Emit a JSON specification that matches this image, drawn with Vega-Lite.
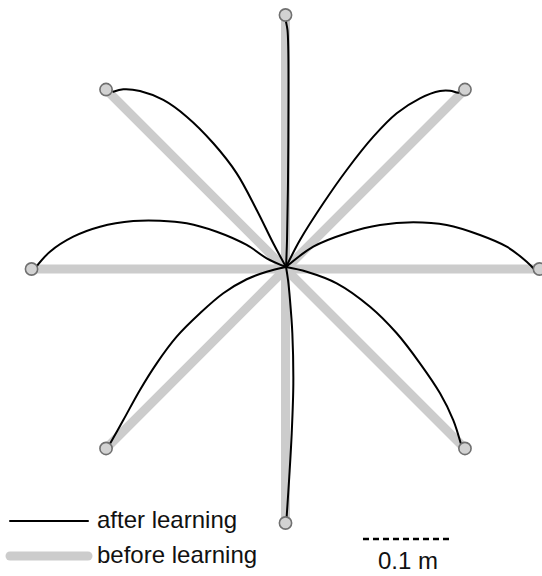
{
  "$schema": "https://vega.github.io/schema/vega-lite/v6.json",
  "width": 542,
  "height": 576,
  "autosize": {"type": "none"},
  "padding": 0,
  "background": "white",
  "config": {
    "view": {"stroke": null},
    "text": {"font": "Liberation Sans"}
  },
  "datasets": {
    "paths": [
      {"phase": "before learning", "dir": "N", "i": 0, "x": 0, "y": 0},
      {"phase": "before learning", "dir": "N", "i": 1, "x": 0, "y": 0.2822},
      {"phase": "before learning", "dir": "NE", "i": 0, "x": 0, "y": 0},
      {"phase": "before learning", "dir": "NE", "i": 1, "x": 0.1994, "y": 0.1994},
      {"phase": "before learning", "dir": "E", "i": 0, "x": 0, "y": 0},
      {"phase": "before learning", "dir": "E", "i": 1, "x": 0.2822, "y": 0},
      {"phase": "before learning", "dir": "SE", "i": 0, "x": 0, "y": 0},
      {"phase": "before learning", "dir": "SE", "i": 1, "x": 0.1994, "y": -0.1994},
      {"phase": "before learning", "dir": "S", "i": 0, "x": 0, "y": 0},
      {"phase": "before learning", "dir": "S", "i": 1, "x": 0, "y": -0.2822},
      {"phase": "before learning", "dir": "SW", "i": 0, "x": 0, "y": 0},
      {"phase": "before learning", "dir": "SW", "i": 1, "x": -0.1994, "y": -0.1994},
      {"phase": "before learning", "dir": "W", "i": 0, "x": 0, "y": 0},
      {"phase": "before learning", "dir": "W", "i": 1, "x": -0.2822, "y": 0},
      {"phase": "before learning", "dir": "NW", "i": 0, "x": 0, "y": 0},
      {"phase": "before learning", "dir": "NW", "i": 1, "x": -0.1994, "y": 0.1994},

      {"phase": "after learning", "dir": "N", "i": 0, "x": 0.0006, "y": 0.0022},
      {"phase": "after learning", "dir": "N", "i": 1, "x": 0.0017, "y": 0.0322},
      {"phase": "after learning", "dir": "N", "i": 2, "x": 0.0028, "y": 0.0989},
      {"phase": "after learning", "dir": "N", "i": 3, "x": 0.0033, "y": 0.1878},
      {"phase": "after learning", "dir": "N", "i": 4, "x": 0.0031, "y": 0.2433},
      {"phase": "after learning", "dir": "N", "i": 5, "x": 0.0022, "y": 0.2656},
      {"phase": "after learning", "dir": "N", "i": 6, "x": 0.0006, "y": 0.2744},
      {"phase": "after learning", "dir": "N", "i": 7, "x": -0.0006, "y": 0.2800},

      {"phase": "after learning", "dir": "NE", "i": 0, "x": 0.0006, "y": 0.0022},
      {"phase": "after learning", "dir": "NE", "i": 1, "x": 0.0161, "y": 0.0322},
      {"phase": "after learning", "dir": "NE", "i": 2, "x": 0.0420, "y": 0.0730},
      {"phase": "after learning", "dir": "NE", "i": 3, "x": 0.0680, "y": 0.1100},
      {"phase": "after learning", "dir": "NE", "i": 4, "x": 0.0976, "y": 0.1470},
      {"phase": "after learning", "dir": "NE", "i": 5, "x": 0.1236, "y": 0.1730},
      {"phase": "after learning", "dir": "NE", "i": 6, "x": 0.1494, "y": 0.1897},
      {"phase": "after learning", "dir": "NE", "i": 7, "x": 0.1717, "y": 0.1978},
      {"phase": "after learning", "dir": "NE", "i": 8, "x": 0.1828, "y": 0.1981},
      {"phase": "after learning", "dir": "NE", "i": 9, "x": 0.1920, "y": 0.1959},
      {"phase": "after learning", "dir": "NE", "i": 10, "x": 0.1950, "y": 0.1972},

      {"phase": "after learning", "dir": "E", "i": 0, "x": 0.0006, "y": 0.0022},
      {"phase": "after learning", "dir": "E", "i": 1, "x": 0.0309, "y": 0.0248},
      {"phase": "after learning", "dir": "E", "i": 2, "x": 0.0680, "y": 0.0397},
      {"phase": "after learning", "dir": "E", "i": 3, "x": 0.1050, "y": 0.0489},
      {"phase": "after learning", "dir": "E", "i": 4, "x": 0.1420, "y": 0.0519},
      {"phase": "after learning", "dir": "E", "i": 5, "x": 0.1791, "y": 0.0489},
      {"phase": "after learning", "dir": "E", "i": 6, "x": 0.2161, "y": 0.0378},
      {"phase": "after learning", "dir": "E", "i": 7, "x": 0.2458, "y": 0.0248},
      {"phase": "after learning", "dir": "E", "i": 8, "x": 0.2680, "y": 0.0081},
      {"phase": "after learning", "dir": "E", "i": 9, "x": 0.2772, "y": -0.0011},

      {"phase": "after learning", "dir": "SE", "i": 0, "x": 0.0006, "y": 0.0022},
      {"phase": "after learning", "dir": "SE", "i": 1, "x": 0.0236, "y": -0.0030},
      {"phase": "after learning", "dir": "SE", "i": 2, "x": 0.0569, "y": -0.0159},
      {"phase": "after learning", "dir": "SE", "i": 3, "x": 0.0939, "y": -0.0419},
      {"phase": "after learning", "dir": "SE", "i": 4, "x": 0.1236, "y": -0.0714},
      {"phase": "after learning", "dir": "SE", "i": 5, "x": 0.1494, "y": -0.1048},
      {"phase": "after learning", "dir": "SE", "i": 6, "x": 0.1717, "y": -0.1381},
      {"phase": "after learning", "dir": "SE", "i": 7, "x": 0.1864, "y": -0.1678},
      {"phase": "after learning", "dir": "SE", "i": 8, "x": 0.1947, "y": -0.1937},

      {"phase": "after learning", "dir": "S", "i": 0, "x": 0.0006, "y": 0.0022},
      {"phase": "after learning", "dir": "S", "i": 1, "x": 0.0028, "y": -0.0122},
      {"phase": "after learning", "dir": "S", "i": 2, "x": 0.0050, "y": -0.0344},
      {"phase": "after learning", "dir": "S", "i": 3, "x": 0.0076, "y": -0.0714},
      {"phase": "after learning", "dir": "S", "i": 4, "x": 0.0087, "y": -0.1270},
      {"phase": "after learning", "dir": "S", "i": 5, "x": 0.0069, "y": -0.1826},
      {"phase": "after learning", "dir": "S", "i": 6, "x": 0.0042, "y": -0.2308},
      {"phase": "after learning", "dir": "S", "i": 7, "x": 0.0013, "y": -0.2752},

      {"phase": "after learning", "dir": "SW", "i": 0, "x": 0.0006, "y": 0.0022},
      {"phase": "after learning", "dir": "SW", "i": 1, "x": -0.0209, "y": -0.0030},
      {"phase": "after learning", "dir": "SW", "i": 2, "x": -0.0431, "y": -0.0114},
      {"phase": "after learning", "dir": "SW", "i": 3, "x": -0.0691, "y": -0.0270},
      {"phase": "after learning", "dir": "SW", "i": 4, "x": -0.0950, "y": -0.0492},
      {"phase": "after learning", "dir": "SW", "i": 5, "x": -0.1209, "y": -0.0752},
      {"phase": "after learning", "dir": "SW", "i": 6, "x": -0.1431, "y": -0.1048},
      {"phase": "after learning", "dir": "SW", "i": 7, "x": -0.1617, "y": -0.1344},
      {"phase": "after learning", "dir": "SW", "i": 8, "x": -0.1802, "y": -0.1678},
      {"phase": "after learning", "dir": "SW", "i": 9, "x": -0.1969, "y": -0.1974},

      {"phase": "after learning", "dir": "W", "i": 0, "x": 0.0006, "y": 0.0022},
      {"phase": "after learning", "dir": "W", "i": 1, "x": -0.0209, "y": 0.0119},
      {"phase": "after learning", "dir": "W", "i": 2, "x": -0.0431, "y": 0.0267},
      {"phase": "after learning", "dir": "W", "i": 3, "x": -0.0764, "y": 0.0414},
      {"phase": "after learning", "dir": "W", "i": 4, "x": -0.1098, "y": 0.0508},
      {"phase": "after learning", "dir": "W", "i": 5, "x": -0.1394, "y": 0.0537},
      {"phase": "after learning", "dir": "W", "i": 6, "x": -0.1691, "y": 0.0533},
      {"phase": "after learning", "dir": "W", "i": 7, "x": -0.2061, "y": 0.0470},
      {"phase": "after learning", "dir": "W", "i": 8, "x": -0.2358, "y": 0.0359},
      {"phase": "after learning", "dir": "W", "i": 9, "x": -0.2617, "y": 0.0192},
      {"phase": "after learning", "dir": "W", "i": 10, "x": -0.2783, "y": 0.0008},

      {"phase": "after learning", "dir": "NW", "i": 0, "x": 0.0006, "y": 0.0022},
      {"phase": "after learning", "dir": "NW", "i": 1, "x": -0.0136, "y": 0.0286},
      {"phase": "after learning", "dir": "NW", "i": 2, "x": -0.0320, "y": 0.0656},
      {"phase": "after learning", "dir": "NW", "i": 3, "x": -0.0542, "y": 0.1063},
      {"phase": "after learning", "dir": "NW", "i": 4, "x": -0.0802, "y": 0.1397},
      {"phase": "after learning", "dir": "NW", "i": 5, "x": -0.1098, "y": 0.1692},
      {"phase": "after learning", "dir": "NW", "i": 6, "x": -0.1358, "y": 0.1878},
      {"phase": "after learning", "dir": "NW", "i": 7, "x": -0.1617, "y": 0.1978},
      {"phase": "after learning", "dir": "NW", "i": 8, "x": -0.1802, "y": 0.1997},
      {"phase": "after learning", "dir": "NW", "i": 9, "x": -0.1913, "y": 0.1970}
    ],
    "targets": [
      {"dir": "N", "x": 0, "y": 0.2822},
      {"dir": "NE", "x": 0.1994, "y": 0.1994},
      {"dir": "E", "x": 0.2822, "y": 0},
      {"dir": "SE", "x": 0.1994, "y": -0.1994},
      {"dir": "S", "x": 0, "y": -0.2822},
      {"dir": "SW", "x": -0.1994, "y": -0.1994},
      {"dir": "W", "x": -0.2822, "y": 0},
      {"dir": "NW", "x": -0.1994, "y": 0.1994}
    ],
    "scalebar": [
      {"label": "0.1 m", "length": 0.1}
    ]
  },
  "layer": [
    {
      "data": {"name": "paths"},
      "transform": [{"filter": "datum.phase === 'before learning'"}],
      "mark": {"type": "line", "strokeCap": "round"},
      "encoding": {
        "x": {"field": "x", "type": "quantitative", "axis": null, "scale": {"domain": [-0.31722, 0.285], "nice": false, "zero": false}},
        "y": {"field": "y", "type": "quantitative", "axis": null, "scale": {"domain": [-0.34111, 0.29889], "nice": false, "zero": false}},
        "order": {"field": "i", "type": "quantitative"},
        "detail": {"field": "dir"},
        "color": {
          "field": "phase", "type": "nominal",
          "scale": {"domain": ["after learning", "before learning"], "range": ["#000000", "#cccccc"]},
          "legend": {
            "orient": "none", "legendX": 0, "legendY": 509, "title": null, "padding": 0,
            "labelFont": "Liberation Sans", "labelFontSize": 24, "labelColor": "#111111", "labelLimit": 400,
            "symbolType": "M-7.8,0H7.8", "symbolSize": 100, "symbolOffset": 37, "labelOffset": 36, "rowPadding": 5,
            "encode": {"symbols": {"update": {"strokeCap": {"value": "round"}}}}
          }
        },
        "strokeWidth": {
          "field": "phase", "type": "nominal",
          "scale": {"domain": ["after learning", "before learning"], "range": [2, 9]},
          "legend": {
            "orient": "none", "legendX": 0, "legendY": 509, "title": null, "padding": 0,
            "labelFont": "Liberation Sans", "labelFontSize": 24, "labelColor": "#111111", "labelLimit": 400,
            "symbolType": "M-7.8,0H7.8", "symbolSize": 100, "symbolOffset": 37, "labelOffset": 36, "rowPadding": 5,
            "encode": {"symbols": {"update": {"strokeCap": {"value": "round"}}}}
          }
        }
      }
    },
    {
      "data": {"name": "paths"},
      "transform": [{"filter": "datum.phase === 'after learning'"}],
      "mark": {"type": "line", "interpolate": "catmull-rom", "strokeCap": "round", "strokeJoin": "round"},
      "encoding": {
        "x": {"field": "x", "type": "quantitative", "axis": null, "scale": {"domain": [-0.31722, 0.285], "nice": false, "zero": false}},
        "y": {"field": "y", "type": "quantitative", "axis": null, "scale": {"domain": [-0.34111, 0.29889], "nice": false, "zero": false}},
        "order": {"field": "i", "type": "quantitative"},
        "detail": {"field": "dir"},
        "color": {"field": "phase", "type": "nominal"},
        "strokeWidth": {"field": "phase", "type": "nominal"}
      }
    },
    {
      "data": {"name": "targets"},
      "mark": {"type": "point", "shape": "circle", "filled": false, "fill": "#d2d2d2", "fillOpacity": 1, "stroke": "#707070", "strokeWidth": 1.6, "size": 150, "opacity": 1},
      "encoding": {
        "x": {"field": "x", "type": "quantitative"},
        "y": {"field": "y", "type": "quantitative"}
      }
    },
    {
      "data": {"name": "scalebar"},
      "mark": {"type": "rule", "color": "#000000", "strokeWidth": 2.5, "strokeDash": [6, 4]},
      "encoding": {
        "x": {"datum": 0.0861, "type": "quantitative"},
        "x2": {"datum": 0.1861},
        "y": {"datum": -0.3, "type": "quantitative"}
      }
    },
    {
      "data": {"name": "scalebar"},
      "mark": {"type": "text", "align": "center", "baseline": "alphabetic", "fontSize": 24, "font": "Liberation Sans", "color": "#111111"},
      "encoding": {
        "x": {"datum": 0.1361, "type": "quantitative"},
        "y": {"datum": -0.3333, "type": "quantitative"},
        "text": {"field": "label"}
      }
    }
  ]
}
